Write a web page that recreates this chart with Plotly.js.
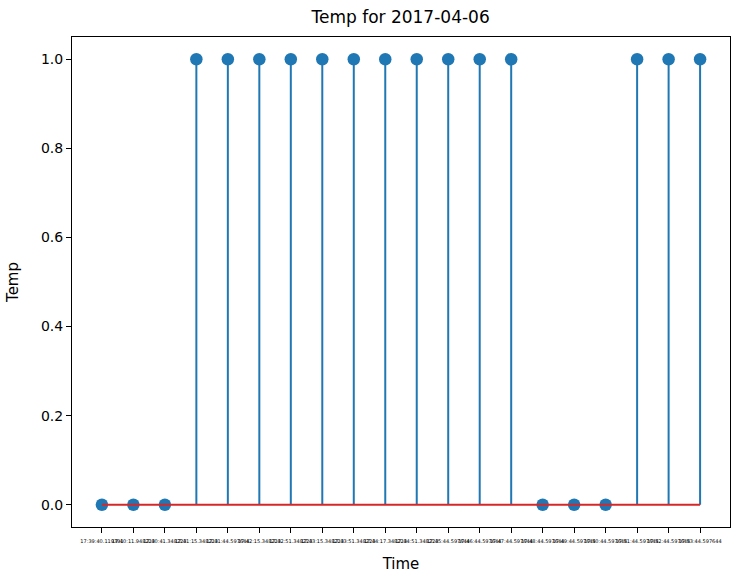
<!DOCTYPE html>
<html>
<head>
<meta charset="utf-8">
<script src="https://cdn.plot.ly/plotly-3.0.1.min.js"></script>
<style>html,body{margin:0;padding:0;background:#fff;}#chart{width:731px;height:573px;}</style>
</head>
<body>
<div id="chart"></div>
<script>
var timeLabels = [
  "17:39:40.119391","17:40:11.948223","17:40:41.348223","17:41:15.348223",
  "17:41:44.597644","17:42:15.348223","17:42:51.348223","17:43:15.348223",
  "17:43:51.348223","17:44:17.348223","17:44:51.348223","17:45:44.597644",
  "17:46:44.597644","17:47:44.597644","17:48:44.597644","17:49:44.597644",
  "17:50:44.597644","17:51:44.597644","17:52:44.597644","17:53:44.597644"
];
var tempValues = [0,0,0,1,1,1,1,1,1,1,1,1,1,1,0,0,0,1,1,1];

var idx = timeLabels.map(function(_, i){ return i; });
var zeros = tempValues.map(function(){ return 0; });

var stems = {
  x: idx, y: tempValues, type: 'scatter', mode: 'markers',
  marker: {color: '#1f77b4', size: 12.5},
  error_y: {type: 'data', symmetric: false, array: zeros, arrayminus: tempValues,
            color: '#1f77b4', thickness: 2, width: 0},
  hoverinfo: 'skip', showlegend: false
};
var baseline = {
  x: [idx[0], idx[idx.length-1]], y: [0, 0], type: 'scatter', mode: 'lines',
  line: {color: '#d62728', width: 2}, hoverinfo: 'skip', showlegend: false
};

var layout = {
  width: 731, height: 573,
  margin: {l: 72, r: 1, t: 37, b: 46},
  paper_bgcolor: '#fff', plot_bgcolor: '#fff',
  font: {family: 'DejaVu Sans, sans-serif', color: '#000'},
  title: {text: 'Temp for 2017-04-06', font: {size: 17}, x: 0.548, xanchor: 'center', y: 0.97, yanchor: 'middle'},
  xaxis: {
    range: [-0.95, 19.95], tickmode: 'array', tickvals: idx, ticktext: timeLabels,
    tickangle: 0, tickfont: {size: 5}, ticks: 'outside', ticklen: 5, tickcolor: '#000',
    ticklabelstandoff: 4,
    showline: true, mirror: true, linecolor: '#000', linewidth: 1,
    showgrid: false, zeroline: false,
    title: {text: 'Time', font: {size: 15}, standoff: 16}
  },
  yaxis: {
    range: [-0.05, 1.05], tickvals: [0, 0.2, 0.4, 0.6, 0.8, 1.0],
    ticktext: ['0.0','0.2','0.4','0.6','0.8','1.0'],
    tickfont: {size: 14}, ticks: 'outside', ticklen: 5, tickcolor: '#000',
    showline: true, mirror: true, linecolor: '#000', linewidth: 1,
    showgrid: false, zeroline: false,
    title: {text: 'Temp', font: {size: 15}, standoff: 18}
  }
};

Plotly.newPlot('chart', [stems, baseline], layout, {displayModeBar: false, staticPlot: true});
</script>
</body>
</html>
